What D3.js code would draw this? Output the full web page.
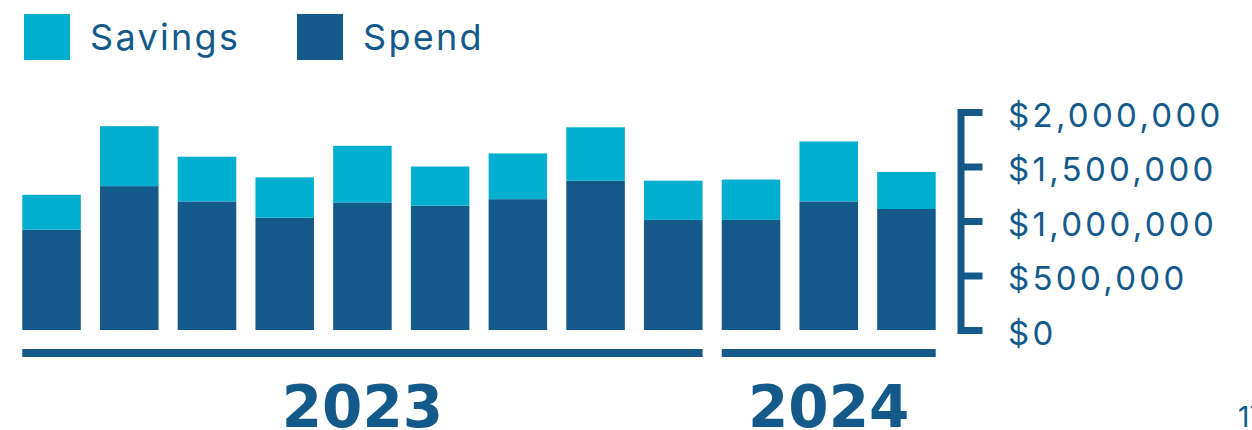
<!DOCTYPE html>
<html>
<head>
<meta charset="utf-8">
<script src="https://cdn.jsdelivr.net/npm/d3@7"></script>
<style>
  html, body { margin: 0; padding: 0; background: #ffffff; }
  svg { display: block; }
</style>
</head>
<body>
<svg id="chart" width="1252" height="430"></svg>
<script>
// Monthly spend and savings, Apr 2023 – Mar 2024
const categories = ["Apr 2023", "May 2023", "Jun 2023", "Jul 2023", "Aug 2023", "Sep 2023",
                    "Oct 2023", "Nov 2023", "Dec 2023", "Jan 2024", "Feb 2024", "Mar 2024"];
const spend   = [920000, 1320000, 1180000, 1030000, 1170000, 1140000,
                 1200000, 1370000, 1010000, 1010000, 1180000, 1110000];
const savings = [320000, 550000, 410000, 370000, 520000, 360000,
                 420000, 490000, 360000, 370000, 550000, 340000];
const years = ["2023", "2024"];
const yTicks = [0, 500000, 1000000, 1500000, 2000000];
const seriesNames = ["Savings", "Spend"];
const pageNumber = "17";

const COLOR_SAVINGS = "#00aecf";
const COLOR_SPEND = "#135a8a";
const TEXT = "#135a8a";
const FONT = "Inter, 'Open Sans', sans-serif";

const svg = d3.select("#chart");

const rows = categories.map((c, i) => ({
  category: c,
  year: c.slice(-4),
  Spend: spend[i],
  Savings: savings[i]
}));

const x = d3.scaleBand()
  .domain(categories)
  .range([22.3, 935.7])
  .paddingInner(0.247)
  .paddingOuter(0);

const y = d3.scaleLinear()
  .domain([0, 2000000])
  .range([330, 112]);

const color = d3.scaleOrdinal()
  .domain(seriesNames)
  .range([COLOR_SAVINGS, COLOR_SPEND]);

// stacked bars: spend at the bottom, savings on top
const stack = d3.stack().keys(["Spend", "Savings"]);
const layers = stack(rows);

svg.append("g")
  .selectAll("g")
  .data(layers)
  .join("g")
    .attr("fill", d => color(d.key))
  .selectAll("rect")
  .data(d => d)
  .join("rect")
    .attr("x", d => x(d.data.category))
    .attr("y", d => y(d[1]))
    .attr("width", x.bandwidth())
    .attr("height", d => y(d[0]) - y(d[1]));

// bracket-style value axis on the right
const axis = d3.axisRight(y)
  .tickValues(yTicks)
  .tickSize(22)
  .tickSizeOuter(0)
  .tickPadding(25.5)
  .tickFormat(d => "$" + d3.format(",")(d));

const axisG = svg.append("g")
  .attr("transform", "translate(960.5,0)")
  .call(axis);

axisG.select(".domain")
  .attr("stroke", COLOR_SPEND)
  .attr("stroke-width", 7)
  .attr("stroke-linecap", "square");
axisG.selectAll(".tick line")
  .attr("stroke", COLOR_SPEND)
  .attr("stroke-width", 7);
axisG.selectAll(".tick text")
  .attr("fill", TEXT)
  .attr("font-family", FONT)
  .attr("font-size", 33)
  .attr("letter-spacing", 3.3)
  .attr("dy", null)
  .attr("y", 14);
axisG.attr("font-family", null).attr("font-size", null);

// year groupings under the bars
const groups = years.map(yr => {
  const cats = rows.filter(r => r.year === yr).map(r => r.category);
  const x0 = x(cats[0]);
  const x1 = x(cats[cats.length - 1]) + x.bandwidth();
  return { year: yr, x0, x1 };
});

svg.append("g")
  .selectAll("rect")
  .data(groups)
  .join("rect")
    .attr("x", d => d.x0)
    .attr("y", 349)
    .attr("width", d => d.x1 - d.x0)
    .attr("height", 8)
    .attr("fill", COLOR_SPEND);

svg.append("g")
  .selectAll("text")
  .data(groups)
  .join("text")
    .attr("x", d => (d.x0 + d.x1) / 2)
    .attr("y", 427)
    .attr("text-anchor", "middle")
    .attr("font-family", "'DejaVu Sans', sans-serif")
    .attr("font-weight", "bold")
    .attr("font-size", 58)
    .attr("fill", TEXT)
    .text(d => d.year);

// legend
const legendX = [24, 297];
const legend = svg.append("g")
  .selectAll("g")
  .data(seriesNames)
  .join("g")
    .attr("transform", (d, i) => `translate(${legendX[i]},14)`);
legend.append("rect")
  .attr("width", 46)
  .attr("height", 46)
  .attr("fill", d => color(d));
legend.append("text")
  .attr("x", 66)
  .attr("y", 36)
  .attr("font-family", FONT)
  .attr("font-size", 36)
  .attr("letter-spacing", 2.3)
  .attr("fill", TEXT)
  .text(d => d);

// page number at the lower right edge
svg.append("text")
  .attr("x", 1238)
  .attr("y", 427)
  .attr("font-family", FONT)
  .attr("font-size", 28)
  .attr("fill", TEXT)
  .text(pageNumber);
</script>
</body>
</html>
